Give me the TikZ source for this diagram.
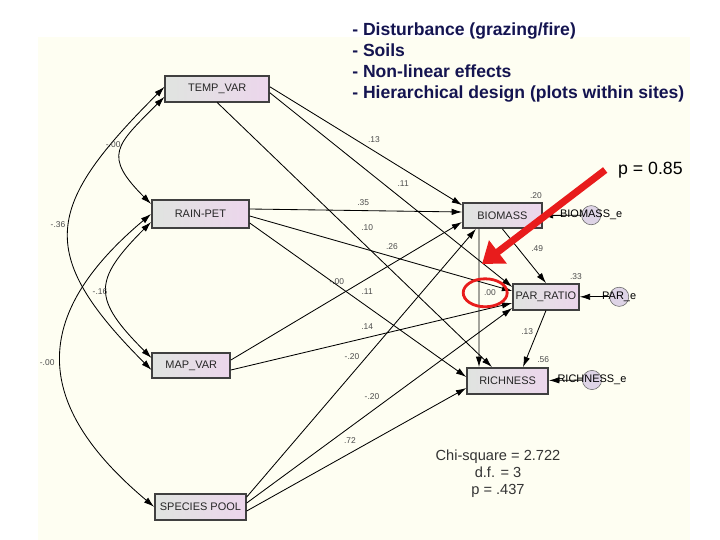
\documentclass[tikz,border=0pt]{standalone}
\usepackage{fontspec}
\setmainfont{Liberation Sans}
\usetikzlibrary{positioning, arrows.meta, shapes.geometric}
\definecolor{paper}{RGB}{254,254,242}
\definecolor{boxleft}{RGB}{224,228,224}
\definecolor{boxright}{RGB}{236,214,236}
\definecolor{navy}{RGB}{20,20,80}
\definecolor{alert}{RGB}{232,28,28}
\definecolor{errfill}{RGB}{222,212,230}

\begin{document}
\begin{tikzpicture}[font=\fontsize{7.8}{9}\selectfont, var/.style={draw=black!75, line width=1pt, left color=boxleft, right color=boxright, inner sep=0pt, text=black!85}, err/.style={circle, draw=black!60, fill=errfill, minimum size=0.48cm, inner sep=0pt}, coef/.style={font=\fontsize{6}{7}\selectfont, text=black!70, inner sep=0.5pt}, reg/.style={-{Latex[length=2.6mm, width=1.6mm]}, line width=0.6pt}, cov/.style={{Latex[length=2.6mm, width=1.6mm]}-{Latex[length=2.6mm, width=1.6mm]}, line width=0.6pt}, alertarrow/.style={-{Triangle[length=5mm, width=7mm]}, line width=5pt, alert}]
\useasboundingbox (0,0) rectangle (18,13.5);
\fill[paper] (0.95,0) rectangle (17.25,12.575);
\node[font=\bfseries\fontsize{12.5}{15.1}\selectfont, text=navy, align=left, anchor=north west, inner sep=0pt] (notes) at (8.8,12.95) {- Disturbance (grazing/fire)\\- Soils\\- Non-linear effects\\- Hierarchical design (plots within sites)};
% observed variables
\node[var, minimum width=2.6cm, minimum height=0.65cm] (temp) at (5.43,11.28) {TEMP\_VAR};
\node[var, minimum width=2.43cm, minimum height=0.7cm] (rain) at (5.01,8.15) {RAIN-PET};
\node[var, minimum width=1.95cm, minimum height=0.63cm] (map) at (4.78,4.36) {MAP\_VAR};
\node[var, minimum width=2.28cm, minimum height=0.65cm] (pool) at (5.01,0.83) {SPECIES POOL};
\node[var, minimum width=1.98cm, minimum height=0.63cm] (biomass) at (12.56,8.11) {BIOMASS};
\node[var, minimum width=1.65cm, minimum height=0.65cm] (par) at (13.65,6.08) {PAR\_RATIO};
\node[var, minimum width=2.03cm, minimum height=0.65cm] (rich) at (12.69,3.98) {RICHNESS};
% error terms
\node[err, label=center:BIOMASS\_e] (bioerr) at (14.78,8.12) {};
\node[err, label=center:PAR\_e] (parerr) at (15.48,6.08) {};
\node[err, label=center:RICHNESS\_e] (richerr) at (14.8,4.0) {};
% covariances
\draw[cov] ([yshift=0.05cm]temp.west) .. controls +(225:4.18) and +(135:4.18) .. ([yshift=-0.11cm]map.west);
\draw[cov] ([yshift=-0.2cm]temp.west) .. controls +(225:1.72) and +(135:1.72) .. ([yshift=0.25cm]rain.west);
\draw[cov] ([yshift=-0.2cm]rain.west) .. controls +(225:2.08) and +(135:2.08) .. ([yshift=0.19cm]map.west);
\draw[cov] (rain.west) .. controls +(220:3.97) and +(140:3.97) .. (pool.west);
% regression paths
\draw[reg] ([yshift=0.05cm]temp.east) -- ([yshift=0.26cm]biomass.west);\draw[reg] ([yshift=-0.1cm]temp.east) -- ([yshift=0.245cm]par.west);\draw[reg] (temp.south) -- ([xshift=-0.39cm]rich.north);
\draw[reg] ([yshift=0.125cm]rain.east) -- ([yshift=0.09cm]biomass.west);\draw[reg] ([yshift=-0.05cm]rain.east) -- ([yshift=0.145cm]par.west);\draw[reg] ([yshift=-0.225cm]rain.east) -- ([yshift=0.095cm]rich.west);
\draw[reg] ([yshift=0.14cm]map.east) -- ([yshift=-0.16cm]biomass.west);\draw[reg] ([yshift=-0.11cm]map.east) -- ([yshift=-0.155cm]par.west);
\draw[reg] ([yshift=0.245cm]pool.east) -- ([xshift=-0.66cm]biomass.south);\draw[reg] ([yshift=0.095cm]pool.east) -- ([yshift=-0.28cm]par.west);\draw[reg] ([yshift=-0.105cm]pool.east) -- ([yshift=-0.18cm]rich.west);
\draw[reg] (biomass.south) -- (par.north);\draw[reg] ([xshift=-0.585cm]biomass.south) -- ([xshift=-0.715cm]rich.north);\draw[reg] (par.south) -- ([xshift=0.385cm]rich.north);
\draw[reg] (bioerr) -- (biomass);\draw[reg] (parerr) -- (par);\draw[reg] (richerr) -- (rich);
% estimates
\node[coef] (c1) at (9.35,10.0) {.13}; \node[coef] (c2) at (10.08,8.9) {.11}; \node[coef] (c3) at (9.18,7.8) {.10};
\node[coef] (c4) at (9.08,8.43) {.35}; \node[coef] (c5) at (9.8,7.33) {.26}; \node[coef] (c6) at (9.18,6.2) {.11};
\node[coef] (c7) at (8.42,6.47) {-.00}; \node[coef] (c8) at (9.18,5.33) {.14};
\node[coef] (c9) at (8.8,4.58) {-.20}; \node[coef] (c10) at (9.3,3.58) {-.20}; \node[coef] (c11) at (8.75,2.48) {.72};
\node[coef] (c12) at (13.43,7.28) {.49}; \node[coef] (c13) at (12.25,6.18) {.00}; \node[coef] (c14) at (13.18,5.2) {.13};
\node[coef] (c15) at (2.83,9.88) {-.00}; \node[coef] (c16) at (1.45,7.88) {-.36}; \node[coef] (c17) at (2.5,6.2) {-.16}; \node[coef] (c18) at (1.18,4.43) {-.00};
\node[coef] (r1) at (13.4,8.6) {.20}; \node[coef] (r2) at (14.4,6.58) {.33}; \node[coef] (r3) at (13.58,4.5) {.56};
% fit and highlight
\node[align=center, font=\fontsize{10.4}{12}\selectfont, text=black!80] (fit) at (12.45,1.65) {Chi-square = 2.722\\d.f. = 3\\p = .437};
\node[font=\fontsize{12.6}{14}\selectfont] (pval) at (16.26,9.25) {p = 0.85};
\node[draw=alert, line width=2pt, ellipse, minimum width=1.1cm, minimum height=0.7cm] (ring) at (12.13,6.18) {};
\coordinate (hit) at (12.05,6.9);
\draw[alertarrow] ([xshift=-0.2cm]pval.west) -- (hit);
\end{tikzpicture}
\end{document}
